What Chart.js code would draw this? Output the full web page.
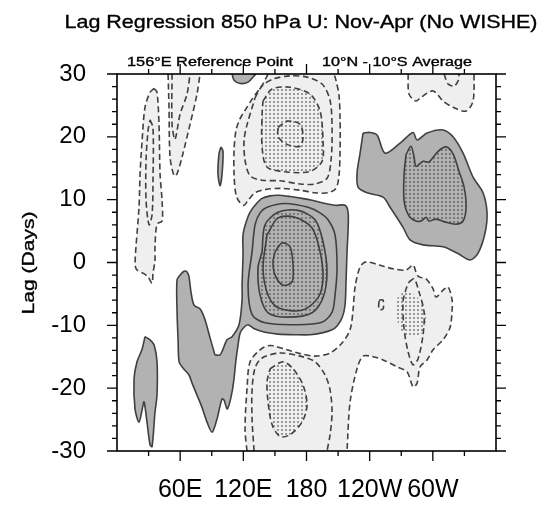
<!DOCTYPE html>
<html>
<head>
<meta charset="utf-8">
<script src="https://cdn.jsdelivr.net/npm/chart.js@4.4.1/dist/chart.umd.min.js"></script>
<style>
  html, body { margin: 0; padding: 0; background: #fff; }
</style>
</head>
<body>
<canvas id="chart" width="547" height="506"></canvas>
<script>
// axis ticks
const lonTicks = [60, 120, 180, 240, 300];
const lonLabels = ["60E", "120E", "180", "120W", "60W"];
const lagTicks = [-30, -20, -10, 0, 10, 20, 30];

// contour outlines, [longitude (deg, 0-360), lag (days)]
// positive regions (solid lines, dark shading)
const posMain = [[93,-14.7],[98,-14.7],[104.5,-12.3],[109.3,-11.8],[115.9,-9.9],[118.8,-6],[118.8,-3.6],[119.7,1.2],[119.7,4.4],[122.6,6.4],[126.4,8],[132.1,9.3],[137.8,10.2],[145.4,10.6],[153,10.7],[164.4,10.5],[175.8,10.2],[185.3,9.9],[194.8,9.5],[207,9.1],[216.6,9.1],[219.5,8],[219.5,5.2],[218.5,1.7],[217.6,-2.8],[216.6,-6.8],[213.8,-8.8],[209,-10.1],[204.3,-10.7],[194.8,-11.2],[183.4,-11.5],[169,-11.5],[153,-11.4],[140.6,-11.1],[131.1,-10.6],[124.5,-9.9],[120.7,-10.3],[117,-11.2],[115,-13.1],[113,-15.5],[111.2,-18.4],[109.3,-20.6],[106.4,-22.7],[104.5,-23.3],[101.7,-21.9],[99.8,-21.7],[97,-23.5],[95,-24.9],[90.3,-27],[85.5,-25.4],[80.8,-23.1],[76,-21.1],[71.3,-19.2],[68.4,-17.9],[62.7,-16.8],[59,-15.8],[58,-12.3],[57,-7.6],[57,-2.8],[60,-2],[63.7,-1.4],[66.5,-1.5],[68.4,-2.3],[70.3,-4.7],[73.2,-6.8],[79,-7.4],[83.6,-9.1],[88.4,-12]];
const posBlob2 = [[128.3,1.7],[131.1,6],[135.9,7.9],[142.5,8.8],[159.6,9.4],[181.5,8.8],[192.9,7.9],[200.5,6.8],[207.1,4.4],[209,-0.9],[207.1,-5.2],[204.3,-7.9],[194.8,-9.5],[169.1,-9.9],[140.6,-9.6],[128.3,-8.3],[124.5,-3.6]];
const posBlob3 = [[137.8,1.7],[140.6,6],[153,8],[172,8.3],[188.1,6.8],[195.7,3.3],[199.5,-1.5],[195.7,-5.6],[185.3,-8],[162.5,-8.7],[143.5,-8],[135.9,-5.2],[133.9,-0.9]];
const posBlob4 = [[142.5,4.4],[153,7.1],[169.1,7.2],[185.3,5.5],[192.9,1.7],[195.7,-2.5],[191,-5.6],[175.8,-7.6],[153,-7.2],[143.5,-5.2],[138.7,-0.9]];
const posBlob5 = [[150.1,1.7],[156.8,3.1],[164.4,2.5],[167.2,-0.4],[166.3,-3.1],[157.7,-3.6],[150.1,-2],[148.2,0.1]];
const posEast = [[233.7,20.6],[240.4,20.7],[247,20.3],[254.6,17.4],[268.9,19],[281.2,20.7],[285,19.5],[294.5,20.6],[309.7,21.1],[319.2,20],[328.7,17.4],[338.2,13.6],[347.7,11.1],[351.5,7.9],[349.6,4.7],[343,1.5],[335.4,0.4],[323,1.5],[309.7,2.5],[290.7,2.8],[278.4,3.6],[271.7,5.6],[259.4,8.8],[252.7,10.4],[237.5,11.1],[229,12],[228,14.2],[230.9,17.4]];
const posEastIn = [[274.6,17.2],[279.3,18.5],[282.2,16.8],[284,15.3],[290.7,16.1],[296.4,16],[305,17.7],[312.6,18.4],[319.2,17.3],[324.9,14.5],[329.7,12],[331.6,8.8],[328.7,6.6],[322,6.1],[312.6,6.4],[303.1,6.9],[296.4,6.6],[293.6,7.2],[288.8,6.6],[284,6.6],[277.4,7.4],[272.7,9.8],[272.7,14.1]];
const posSmall = [[98.8,18.4],[100.7,17.7],[99.8,14.1],[97.9,12.2],[95.9,14.1],[96.9,17.3]];
const posTop = [[109.3,30],[111.2,29],[116.9,28.5],[124.5,28.7],[130.2,29.7],[132,30]];
const posSW = [[26.6,-11.8],[31.4,-12.3],[35.2,-13.1],[38,-15.8],[38,-21.1],[36.1,-23.8],[33.3,-29.3],[31.4,-29],[28.5,-25.4],[25.7,-22.2],[23.8,-23.5],[20.9,-25.4],[17.1,-23.3],[16.2,-18.5],[19,-15.8],[23.8,-13.8]];

// negative regions (dashed lines, light shading)
const negNorth1 = [[143.5,30],[137.8,28.2],[128.3,26],[121.6,24.2],[116.9,22.9],[113.1,21.1],[111.2,17.9],[111.2,13.9],[113.1,10.7],[116.9,9.5],[120.7,9.1],[124.5,9.9],[131.1,11.1],[140.6,11.6],[154.9,11.8],[173.9,11.5],[188.1,11.1],[200.5,11.1],[208,11.8],[210.9,13.9],[211.9,17.9],[211.9,22.7],[210.9,26.6],[208,29],[206.2,30]];
const negNorth2 = [[131.1,26.2],[137.8,28.1],[148.2,29.2],[164.4,29.7],[180.5,29.5],[194.8,28.4],[202.4,25.8],[204.3,21.1],[203.3,16.3],[199.5,13.4],[188.1,12.5],[173.9,12.5],[154.9,13],[137.8,13.1],[126.4,13.8],[121.6,16.3],[120.7,19.5],[123.5,21.9]];
const negNorth3 = [[138.7,25.7],[147.3,27.6],[164.4,27.9],[183.4,26.8],[192.9,24.1],[195.7,19.3],[194.8,16.1],[183.4,14.5],[161.5,14.4],[142.5,15.2],[137.8,18.4],[137.8,23.6]];
const negNorth4 = [[153,21.5],[161.5,22.5],[173.9,22],[176.7,20],[173.9,18.5],[161.5,18.8],[153,20]];
const negWestA = [[35.2,27.7],[38,27.1],[39.9,22],[40.9,14.1],[42.8,9.8],[42.8,6.6],[38,6.1],[36.1,2.5],[36.1,0.4],[34.2,-1.7],[33.3,-3.3],[29.5,-2.3],[24.7,-1.7],[19,-1.2],[17.1,-0.2],[20.9,8.8],[21.9,14.1],[23.8,19.3],[26.6,24.7],[31.4,27.1]];
const negWestA2 = [[31.4,22.7],[34.2,21.4],[34.2,13.1],[33.3,7.6],[30.4,6],[27.6,9.9],[27.6,16.3],[29.5,21]];
const negWestB = [[48.5,30],[49.4,24.7],[50.4,16.8],[54.2,13.8],[57,14.1],[61.8,16.8],[69.4,22],[76,26.8],[78.9,30]];
const negWestB2 = [[52.3,30],[52.3,22],[55.1,19.6],[59.9,23.6],[66.5,26.8],[69.4,30]];
const negNE = [[276.5,30],[277.4,26.8],[284,25.7],[288.8,26.3],[300.2,27.3],[309.7,25.7],[319.2,24.7],[331.6,24.1],[338.2,25.7],[339.2,30]];
const negNE2 = [[310.7,30],[314.5,28.4],[320.2,28.1],[324,28.9],[324.9,30]];
const negSouth1 = [[123.5,-30],[121.6,-26.5],[123.5,-20.1],[126.4,-15.8],[135.9,-13.9],[145.4,-13.2],[161.5,-13.9],[173.9,-14.5],[188.1,-14.9],[202.4,-14.4],[213.8,-12.8],[221.4,-10.7],[224.2,-7.6],[226.1,-3.9],[230.9,-0.7],[236.6,0.1],[248.9,-0.4],[262.2,-1],[274.6,-1.2],[281.2,-0.4],[284,-1.5],[286.9,-2.3],[293.6,-2.6],[300.2,-4.2],[303.1,-5.5],[309.7,-4.4],[314.5,-3.9],[318.3,-6],[318.3,-7.6],[316.4,-10.3],[309.7,-12.3],[300.2,-13.9],[294.5,-15.5],[287.9,-16.6],[285,-19.2],[281.2,-19.8],[275.5,-17.4],[266,-16.6],[252.7,-15.5],[243.2,-15],[233.7,-14.9],[228,-16.9],[221.4,-22.2],[218.5,-30]];
const negSouth2 = [[130.2,-30],[128.3,-25],[128.3,-20.3],[131.1,-16.8],[137.8,-15.2],[154.9,-14.4],[173.9,-14.9],[188.1,-15.8],[197.6,-17.9],[202.4,-20.3],[204.3,-23.8],[202.4,-27.4],[199.5,-30]];
const negSouth3 = [[145.4,-16.9],[157.7,-15.8],[167.2,-16.9],[176.7,-19.5],[180.5,-22.7],[175.8,-25.4],[164.4,-27.4],[154.9,-27.7],[147.3,-25.8],[143.5,-22.2],[142.5,-19]];
const negEast2 = [[277.4,-3.1],[282.2,-2.6],[286.9,-4.7],[291.7,-7.9],[290.7,-11.5],[286,-15.3],[281.2,-16.3],[276.5,-14.2],[272.7,-10.6],[271.7,-6.3],[274.6,-4.2]];
const negEastDots = [[267,-5.3],[273.6,-4.7],[283.1,-5.2],[290.7,-6.8],[293.6,-8.8],[290.7,-11.1],[282.2,-11.8],[271.7,-11.2],[266,-9.1],[265,-6.8]];
const negTiny = [[248.9,-6],[252.7,-6],[252.7,-7.4],[248.9,-7.4]];

const LIGHT = "#efefef";
const DARK = "#b2b2b2";
const LINE = "#404040";

const canvas = document.getElementById("chart");
const ctx = canvas.getContext("2d");

// stipple for significant areas
const dotCanvas = document.createElement("canvas");
dotCanvas.width = 4;
dotCanvas.height = 4;
const dctx = dotCanvas.getContext("2d");
dctx.fillStyle = "rgba(60,60,60,0.6)";
dctx.beginPath();
dctx.arc(2, 2, 1.05, 0, Math.PI * 2);
dctx.fill();
const STIPPLE = ctx.createPattern(dotCanvas, "repeat");

// drawing order: first entry is painted first
const contours = [
    { pts: negWestA, fill: LIGHT, dash: true },
    { pts: negWestB, fill: LIGHT, dash: true },
    { pts: negNE, fill: LIGHT, dash: true },
    { pts: negNorth1, fill: LIGHT, dash: true },
    { pts: negSouth1, fill: LIGHT, dash: true },
    { pts: negWestA2, fill: null, dash: true },
    { pts: negWestB2, fill: null, dash: true },
    { pts: negNE2, fill: null, dash: true },
    { pts: negNorth2, fill: null, dash: true },
    { pts: negSouth2, fill: null, dash: true },
    { pts: negEastDots, fill: STIPPLE, dash: true, noLine: true },
    { pts: negEast2, fill: null, dash: true },
    { pts: negNorth3, fill: STIPPLE, dash: true },
    { pts: negNorth4, fill: null, dash: true },
    { pts: negSouth3, fill: STIPPLE, dash: true },
    { pts: negTiny, fill: null, dash: true },
    { pts: posMain, fill: DARK, dash: false },
    { pts: posEast, fill: DARK, dash: false },
    { pts: posSmall, fill: DARK, dash: false },
    { pts: posTop, fill: DARK, dash: false },
    { pts: posSW, fill: DARK, dash: false },
    { pts: posBlob2, fill: null, dash: false },
    { pts: posBlob3, fill: STIPPLE, dash: false },
    { pts: posBlob4, fill: null, dash: false },
    { pts: posBlob5, fill: null, dash: false },
    { pts: posEastIn, fill: STIPPLE, dash: false }
];

const datasets = contours.map((c, i) => {
    const closed = c.pts[0][1] !== 30 && c.pts[0][1] !== -30;
    const pts = c.pts.map((p) => ({ x: p[0], y: p[1] }));
    if (closed) pts.push({ x: c.pts[0][0], y: c.pts[0][1] });
    return {
        data: pts,
        showLine: true,
        fill: c.fill ? "shape" : false,
        backgroundColor: c.fill || "transparent",
        borderColor: c.noLine ? "transparent" : LINE,
        borderWidth: c.noLine ? 0 : 1.6,
        borderDash: c.dash ? [6, 3.5] : [],
        pointRadius: 0,
        tension: 0.3,
        order: contours.length - i
    };
});

// text drawn with a horizontal stretch to match the target width
function stretchText(c, text, x, y, size, width, align) {
    c.save();
    c.font = size + 'px "Liberation Sans", Arial, sans-serif';
    const w = c.measureText(text).width;
    const s = width / w;
    c.translate(x, y);
    c.scale(s, 1);
    c.textBaseline = "alphabetic";
    c.textAlign = align;
    c.fillStyle = "#000";
    c.strokeStyle = "#000";
    c.lineWidth = 0.35;
    c.fillText(text, 0, 0);
    c.strokeText(text, 0, 0);
    c.restore();
}

const framePlugin = {
    id: "frame",
    afterDraw(chart) {
        const c = chart.ctx;
        const a = chart.chartArea;
        const xs = chart.scales.x;
        const ys = chart.scales.y;
        c.save();
        c.strokeStyle = "#000";
        c.lineWidth = 1.6;
        c.strokeRect(a.left, a.top, a.right - a.left, a.bottom - a.top);
        c.lineWidth = 1.3;
        c.beginPath();
        for (let lon = 30; lon < 360; lon += 30) {
            const px = xs.getPixelForValue(lon);
            const len = lon % 60 === 0 ? 10 : 5;
            c.moveTo(px, a.bottom); c.lineTo(px, a.bottom + len);
            c.moveTo(px, a.top); c.lineTo(px, a.top - len);
        }
        for (let lag = -30; lag <= 30; lag += 2) {
            const py = ys.getPixelForValue(lag);
            const len = lag % 10 === 0 ? 10 : 5;
            c.moveTo(a.left, py); c.lineTo(a.left - len, py);
            c.moveTo(a.right, py); c.lineTo(a.right + len, py);
        }
        c.stroke();
        c.restore();

        stretchText(c, "Lag Regression 850 hPa U: Nov-Apr (No WISHE)", 301, 28, 18.5, 473, "center");
        stretchText(c, "156°E Reference Point", 127, 66, 12.5, 166, "left");
        stretchText(c, "10°N - 10°S Average", 472, 66, 12.5, 150, "right");

        c.save();
        c.translate(34, 263);
        c.rotate(-Math.PI / 2);
        stretchText(c, "Lag (Days)", 0, 0, 17, 103, "center");
        c.restore();
    }
};

new Chart(ctx, {
    type: "scatter",
    data: { datasets: datasets },
    options: {
        responsive: false,
        animation: false,
        layout: { padding: { top: 74, right: 51, left: 0, bottom: 0 } },
        plugins: {
            legend: { display: false },
            tooltip: { enabled: false },
            filler: { propagate: false }
        },
        scales: {
            x: {
                type: "linear",
                min: 0,
                max: 360,
                afterFit: (scale) => { scale.height = 55; },
                afterBuildTicks: (scale) => {
                    scale.ticks = lonTicks.map((v) => ({ value: v }));
                },
                ticks: {
                    autoSkip: false,
                    maxRotation: 0,
                    padding: 16,
                    color: "#000",
                    font: { family: '"Liberation Sans", Arial, sans-serif', size: 25 },
                    callback: (v) => {
                        const k = lonTicks.indexOf(v);
                        return k >= 0 ? lonLabels[k] : "";
                    }
                },
                grid: { display: false },
                border: { display: false }
            },
            y: {
                type: "linear",
                min: -30,
                max: 30,
                afterFit: (scale) => { scale.width = 117; },
                afterBuildTicks: (scale) => {
                    scale.ticks = lagTicks.map((v) => ({ value: v }));
                },
                ticks: {
                    padding: 23,
                    color: "#000",
                    font: { family: '"Liberation Sans", Arial, sans-serif', size: 24 },
                    callback: (v) => String(v)
                },
                grid: { display: false },
                border: { display: false }
            }
        }
    },
    plugins: [framePlugin]
});
</script>
</body>
</html>
